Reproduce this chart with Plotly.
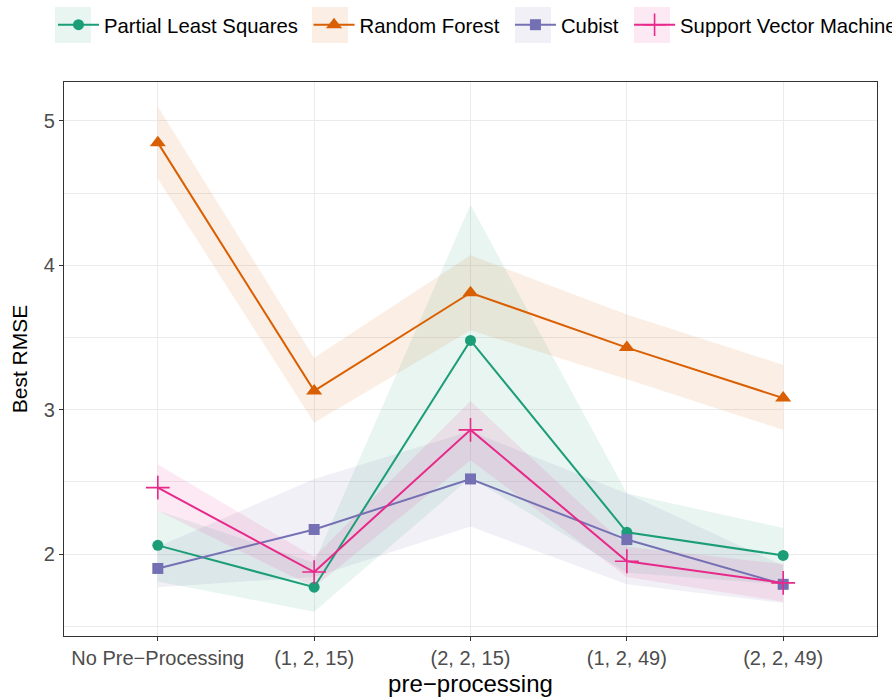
import plotly.graph_objects as go

categories = ["No Pre\u2212Processing", "(1, 2, 15)", "(2, 2, 15)", "(1, 2, 49)", "(2, 2, 49)"]

series_names = ["Partial Least Squares", "Random Forest", "Cubist", "Support Vector Machine"]

pls = [2.06, 1.77, 3.48, 2.15, 1.99]
pls_lo = [1.81, 1.60, 2.53, 1.87, 1.79]
pls_hi = [2.30, 1.94, 4.42, 2.42, 2.18]

rf = [4.85, 3.13, 3.81, 3.43, 3.08]
rf_lo = [4.60, 2.91, 3.55, 3.21, 2.86]
rf_hi = [5.10, 3.36, 4.07, 3.66, 3.31]

cub = [1.90, 2.17, 2.52, 2.10, 1.79]
cub_lo = [1.77, 1.84, 2.19, 1.79, 1.66]
cub_hi = [2.05, 2.52, 2.85, 2.42, 1.92]

svm = [2.46, 1.875, 2.86, 1.95, 1.80]
svm_lo = [2.30, 1.77, 2.65, 1.84, 1.67]
svm_hi = [2.62, 1.98, 3.06, 2.05, 1.93]

y_ticks = [2, 3, 4, 5]
y_minor = [1.5, 2.5, 3.5, 4.5]

colors = ["#1B9E77", "#D95F02", "#7570B3", "#E7298A"]
symbols = ["circle", "triangle-up", "square", "cross-thin"]
msizes = [11, 14, 11, 17]

means = [pls, rf, cub, svm]
lows = [pls_lo, rf_lo, cub_lo, svm_lo]
highs = [pls_hi, rf_hi, cub_hi, svm_hi]

FONT = "Liberation Sans, Arial, sans-serif"
W, H = 892, 698
ML, MR, MT, MB = 64, 15, 82, 62
PW, PH = W - ML - MR, H - MT - MB

def rgba(hexc, a):
    h = hexc.lstrip("#")
    return "rgba(%d,%d,%d,%.3f)" % (int(h[0:2], 16), int(h[2:4], 16), int(h[4:6], 16), a)

def px_x(p):
    return (p - ML) / PW

def px_y(p):
    return 1 + (MT - p) / PH

fig = go.Figure()

# ribbons
for name, c, lo, hi in zip(series_names, colors, lows, highs):
    fig.add_trace(go.Scatter(
        x=categories + categories[::-1],
        y=hi + lo[::-1],
        fill="toself", fillcolor=rgba(c, 0.1),
        line=dict(width=0, color="rgba(0,0,0,0)"),
        mode="lines", showlegend=False, hoverinfo="skip",
    ))

# lines + points
for name, c, sym, ms, m in zip(series_names, colors, symbols, msizes, means):
    fig.add_trace(go.Scatter(
        x=categories, y=m, name=name + "\u00a0",
        mode="lines+markers",
        line=dict(color=c, width=2),
        marker=dict(color=c, symbol=sym, size=ms,
                    line=dict(color=c, width=1.6 if sym == "cross-thin" else 0)),
    ))

# legend key backgrounds (ribbon tint, as in ggplot keys)
key_left_px = [55, 312, 515, 634]
shapes = []
for c, kx in zip(colors, key_left_px):
    shapes.append(dict(type="rect", xref="paper", yref="paper",
                       x0=px_x(kx), x1=px_x(kx + 36), y0=px_y(43), y1=px_y(7),
                       fillcolor=rgba(c, 0.1), line=dict(width=0), layer="below"))

fig.update_layout(
    width=W, height=H,
    margin=dict(l=ML, r=MR, t=MT, b=MB, autoexpand=False),
    plot_bgcolor="white", paper_bgcolor="white",
    font=dict(family=FONT, color="#000000"),
    showlegend=True,
    shapes=shapes,
    legend=dict(
        orientation="h", x=px_x(53), xanchor="left", y=px_y(25), yanchor="middle",
        font=dict(size=20.3, family=FONT, color="#000000"),
        itemwidth=41, tracegroupgap=0, bgcolor="rgba(0,0,0,0)",
    ),
    xaxis=dict(
        type="category", categoryorder="array", categoryarray=categories,
        range=[-0.6, 4.6],
        showgrid=True, gridcolor="#EBEBEB", gridwidth=1.1,
        showline=True, mirror=True, linecolor="#333333", linewidth=1.1,
        ticks="outside", ticklen=4, tickwidth=1.1, tickcolor="#333333",
        tickfont=dict(size=20, color="#4D4D4D", family=FONT),
        title=dict(text="pre\u2212processing", font=dict(size=24, color="#000000", family=FONT), standoff=7),
        zeroline=False,
    ),
    yaxis=dict(
        range=[1.432, 5.270],
        tickmode="array", tickvals=y_ticks, ticktext=[str(v) for v in y_ticks],
        showgrid=True, gridcolor="#EBEBEB", gridwidth=1.1,
        minor=dict(tickmode="array", tickvals=y_minor, showgrid=True, gridcolor="#EBEBEB", gridwidth=0.6),
        showline=True, mirror=True, linecolor="#333333", linewidth=1.1,
        ticks="outside", ticklen=4, tickwidth=1.1, tickcolor="#333333",
        tickfont=dict(size=20, color="#4D4D4D", family=FONT),
        title=dict(text="Best RMSE", font=dict(size=21, color="#000000", family=FONT), standoff=10),
        zeroline=False,
    ),
)

fig.write_html("out.html")
